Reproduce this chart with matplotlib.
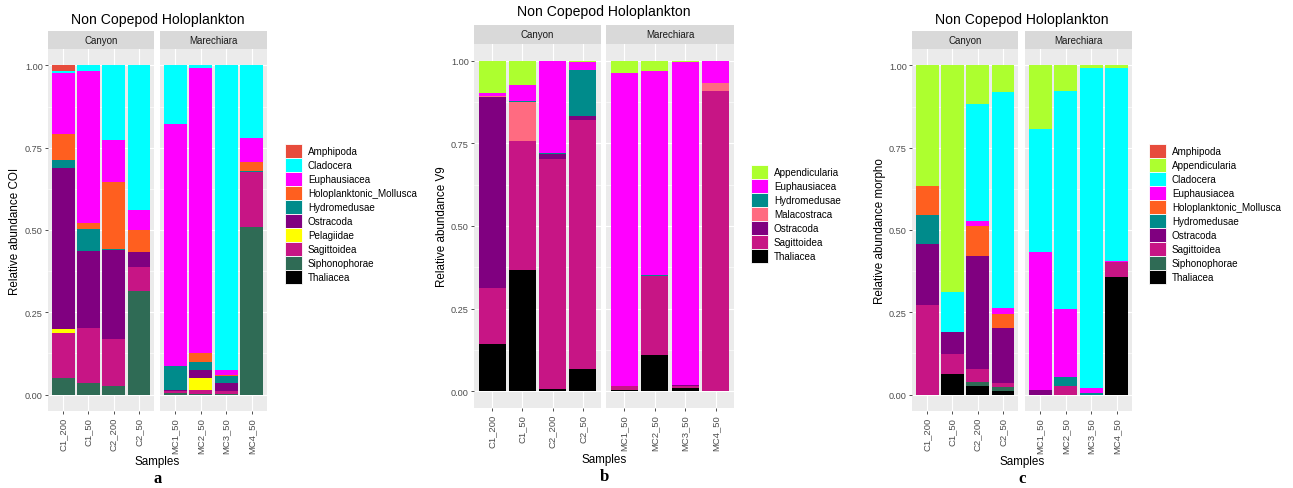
import numpy as np
import matplotlib
matplotlib.use("Agg")
import matplotlib.pyplot as plt
from matplotlib.patches import Patch

plt.rcParams['font.family'] = ['Liberation Sans', 'DejaVu Sans']

W, H = 1293, 489

# samples per site
canyon = ["C1_200", "C1_50", "C2_200", "C2_50"]
marechiara = ["MC1_50", "MC2_50", "MC3_50", "MC4_50"]

# relative abundances, columns: C1_200 C1_50 C2_200 C2_50 MC1_50 MC2_50 MC3_50 MC4_50
coi_taxa = ["Amphipoda", "Cladocera", "Euphausiacea", "Holoplanktonic_Mollusca",
            "Hydromedusae", "Ostracoda", "Pelagiidae", "Sagittoidea",
            "Siphonophorae", "Thaliacea"]
coi_values = [
    [0.018, 0, 0, 0, 0, 0, 0, 0],
    [0.004, 0.017, 0.227, 0.439, 0.177, 0.008, 0.925, 0.221],
    [0.185, 0.461, 0.127, 0.060, 0.737, 0.866, 0.015, 0.072],
    [0.079, 0.018, 0.203, 0.068, 0, 0.027, 0.004, 0.029],
    [0.025, 0.068, 0.003, 0, 0.073, 0.023, 0.020, 0.003],
    [0.491, 0.234, 0.270, 0.044, 0.003, 0.027, 0.025, 0],
    [0.011, 0, 0, 0, 0, 0.035, 0, 0],
    [0.136, 0.166, 0.145, 0.074, 0.006, 0.012, 0.009, 0.165],
    [0.051, 0.036, 0.025, 0.315, 0.004, 0.002, 0.002, 0.510],
    [0, 0, 0, 0, 0, 0, 0, 0],
]

v9_taxa = ["Appendicularia", "Euphausiacea", "Hydromedusae", "Malacostraca",
           "Ostracoda", "Sagittoidea", "Thaliacea"]
v9_values = [
    [0.099, 0.073, 0, 0.003, 0.037, 0.033, 0.003, 0],
    [0.008, 0.049, 0.280, 0.025, 0.948, 0.615, 0.976, 0.069],
    [0, 0.003, 0.002, 0.140, 0, 0.002, 0, 0],
    [0.004, 0.117, 0, 0, 0, 0, 0, 0.023],
    [0.577, 0, 0.016, 0.011, 0, 0, 0.005, 0],
    [0.169, 0.390, 0.696, 0.754, 0.012, 0.241, 0.006, 0.908],
    [0.143, 0.368, 0.006, 0.067, 0.003, 0.109, 0.010, 0],
]

morpho_taxa = ["Amphipoda", "Appendicularia", "Cladocera", "Euphausiacea",
               "Holoplanktonic_Mollusca", "Hydromedusae", "Ostracoda",
               "Sagittoidea", "Siphonophorae", "Thaliacea"]
morpho_values = [
    [0, 0, 0, 0, 0, 0, 0, 0],
    [0.365, 0.689, 0.117, 0.081, 0.192, 0.078, 0.007, 0.009],
    [0, 0.122, 0.355, 0.655, 0.376, 0.662, 0.973, 0.585],
    [0, 0, 0.016, 0.019, 0.417, 0.206, 0.015, 0.002],
    [0.089, 0, 0.090, 0.043, 0, 0, 0, 0],
    [0.090, 0, 0, 0, 0, 0.027, 0.005, 0],
    [0.183, 0.065, 0.344, 0.167, 0.015, 0, 0, 0],
    [0.273, 0.061, 0.041, 0.011, 0, 0.027, 0, 0.048],
    [0, 0, 0.010, 0.012, 0, 0, 0, 0],
    [0, 0.063, 0.027, 0.012, 0, 0, 0, 0.356],
]

colours = {
    "Amphipoda": "#E74C3C",
    "Appendicularia": "#ADFF2F",
    "Cladocera": "#00FFFF",
    "Euphausiacea": "#FF00FF",
    "Holoplanktonic_Mollusca": "#FF5F1F",
    "Hydromedusae": "#008B8B",
    "Malacostraca": "#FF6B81",
    "Ostracoda": "#800080",
    "Pelagiidae": "#FFFF00",
    "Sagittoidea": "#C71585",
    "Siphonophorae": "#2F6B55",
    "Thaliacea": "#000000",
}

fig = plt.figure(figsize=(W / 100, H / 100), dpi=100)


def px_axes(x0, y0, x1, y1):
    return fig.add_axes([x0 / W, 1 - y1 / H, (x1 - x0) / W, (y1 - y0) / H])


def facet(x0, x1, top, strip_top, bottom, label, samples, taxa, vals, first):
    ax = px_axes(x0, top, x1, bottom)
    ax.set_facecolor("#EBEBEB")
    ax.set_axisbelow(True)
    x = np.arange(1, len(samples) + 1)
    # ggplot stacks the first level on top, so build from the last one up
    base = np.zeros(len(samples))
    for name, row in zip(taxa[::-1], vals[::-1]):
        row = np.array(row)
        ax.bar(x, row, width=0.9, bottom=base, color=colours[name], linewidth=0)
        base += row
    ax.set_xlim(0.4, len(samples) + 0.6)
    ax.set_ylim(-0.05, 1.05)
    ax.set_yticks([0, 0.25, 0.5, 0.75, 1.0])
    ax.set_yticks([0.125, 0.375, 0.625, 0.875], minor=True)
    ax.set_xticks(x)
    ax.set_xticklabels(samples, rotation=90, fontsize=6.8, color="#4D4D4D")
    ax.grid(which="major", color="white", linewidth=0.8)
    ax.grid(which="minor", axis="y", color="white", linewidth=0.4)
    for s in ax.spines.values():
        s.set_visible(False)
    ax.tick_params(axis="x", length=2.2, width=0.6, color="#333333", pad=2)
    ax.tick_params(which="minor", length=0)
    if first:
        ax.set_yticklabels(["0.00", "0.25", "0.50", "0.75", "1.00"],
                           fontsize=6.6, color="#4D4D4D")
        ax.tick_params(axis="y", length=2.2, width=0.6, color="#333333", pad=1.5)
    else:
        ax.tick_params(axis="y", length=0, labelleft=False)
    st = px_axes(x0, strip_top, x1, top)
    st.set_facecolor("#D9D9D9")
    st.set_xticks([])
    st.set_yticks([])
    for s in st.spines.values():
        s.set_visible(False)
    st.text(0.5, 0.5, label, ha="center", va="center", fontsize=7,
            color="#1A1A1A", transform=st.transAxes)
    return ax


def panel(left, right, strip_top, top, bottom, taxa, vals, ylabel, ylabel_x,
          title_y, samples_y, caption, caption_y, legend_xy):
    vals = np.array(vals)
    facet(left[0], left[1], top, strip_top, bottom, "Canyon", canyon,
          taxa, vals[:, :4], True)
    facet(right[0], right[1], top, strip_top, bottom, "Marechiara", marechiara,
          taxa, vals[:, 4:], False)
    cx = (left[0] + right[1]) / 2 / W
    fig.text(cx, 1 - title_y / H, "Non Copepod Holoplankton", ha="center",
             va="center", fontsize=10.1)
    fig.text(cx, 1 - samples_y / H, "Samples", ha="center", va="center",
             fontsize=8.4)
    fig.text(ylabel_x / W, 1 - (top + bottom) / 2 / H, ylabel, rotation=90,
             ha="center", va="center", fontsize=8.4)
    fig.text(cx, 1 - caption_y / H, caption, ha="center", va="center",
             fontsize=12, fontweight="bold", family="Liberation Serif")
    handles = [Patch(facecolor=colours[t], edgecolor="white", linewidth=0.6)
               for t in taxa]
    fig.legend(handles, taxa, loc="upper left",
               bbox_to_anchor=(legend_xy[0] / W, 1 - legend_xy[1] / H),
               frameon=False, fontsize=7.1, handlelength=1.72,
               handleheight=1.8, labelspacing=0, handletextpad=0.6,
               borderpad=0, borderaxespad=0)


panel((48, 154), (160, 267), 32, 50, 412, coi_taxa, coi_values,
      "Relative abundance COI", 15, 20, 462, "a", 479, (285, 145))
panel((474, 601), (606, 734), 26, 45, 409, v9_taxa, v9_values,
      "Relative abundance V9", 442, 12, 460, "b", 477, (751, 166))
panel((912, 1018), (1025, 1132), 32, 50, 412, morpho_taxa, morpho_values,
      "Relative abundance morpho", 880, 20, 462, "c", 479, (1149, 145))

fig.savefig("out.png", dpi=100, facecolor="white")
